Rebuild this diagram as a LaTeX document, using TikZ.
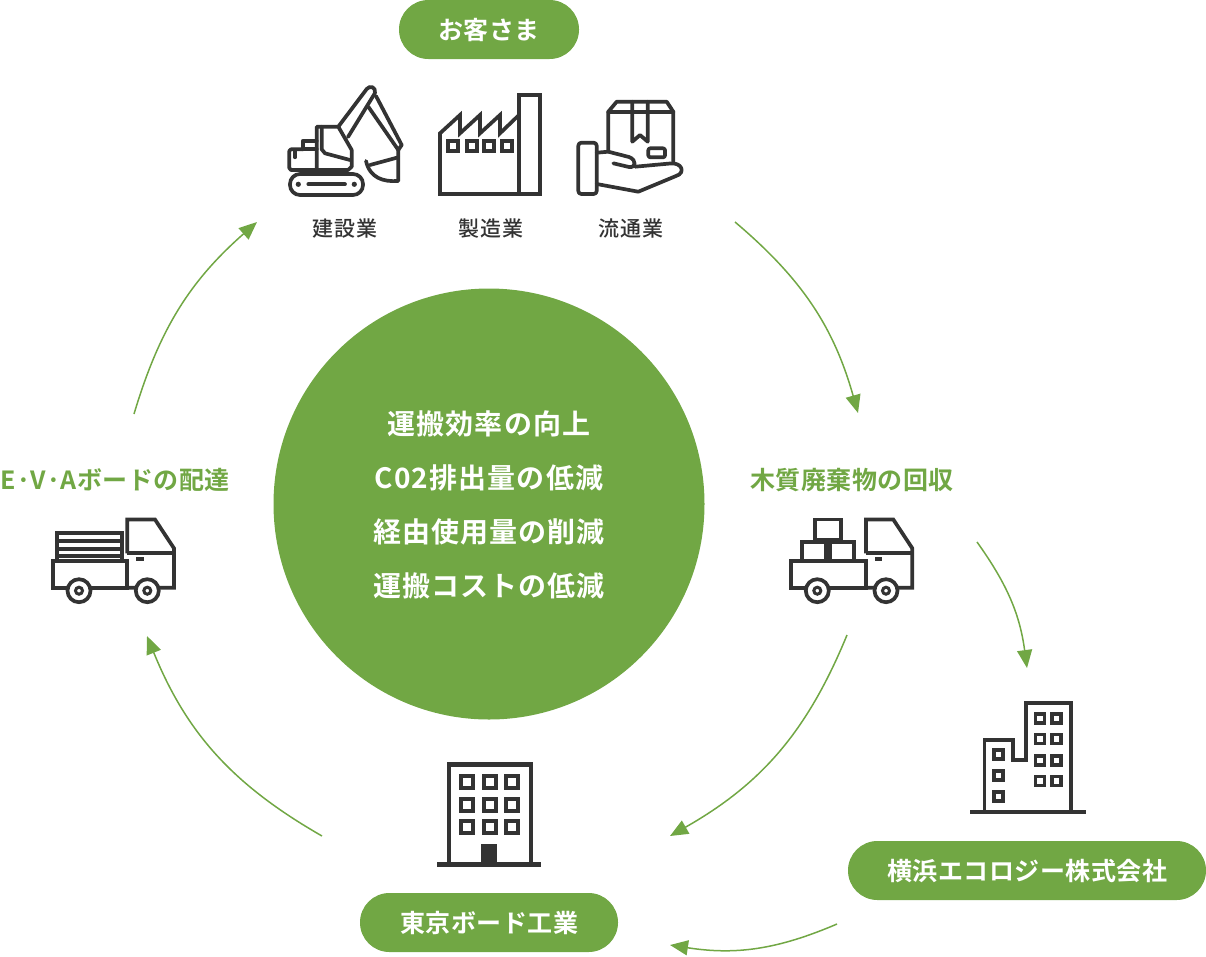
\documentclass[tikz,border=0pt]{standalone}
\usepackage{fontspec}
\usetikzlibrary{arrows.meta}
\newfontfamily\jpb[LetterSpace=4]{Noto Sans CJK JP Bold}
\newfontfamily\jpl[LetterSpace=2]{Noto Sans CJK JP Bold}
\newfontfamily\jpr[LetterSpace=3]{Noto Sans CJK JP Medium}
\definecolor{gr}{HTML}{71A744}
\definecolor{ink}{HTML}{333333}
\tikzset{
  center txt/.style={font=\jpb\fontsize{28}{30}\selectfont,text=white,inner sep=0pt,text height=24.6pt,text depth=3.4pt},
  green label/.style={font=\jpl\fontsize{25}{30}\selectfont,text=gr,inner sep=0pt,text height=22pt,text depth=3pt},
  pill/.style={font=\jpl\fontsize{25}{30}\selectfont,text=white,fill=gr,inner sep=0pt,minimum height=59pt,rounded corners=29.4pt,text height=22pt,text depth=3pt},
  sector/.style={font=\jpr\fontsize{21}{26}\selectfont,text=ink,inner sep=0pt,text height=18.5pt,text depth=2.5pt},
  flow/.style={draw=gr,line width=1.5pt,-{Triangle[length=18pt,width=15pt]}},
  icon/.style={draw=ink,line width=3.7pt,line join=miter,fill=none},
  ricon/.style={icon,line join=round,line cap=round},
  wheel/.style={draw=ink,line width=3.7pt,fill=white},
}
\begin{document}
\begin{tikzpicture}[x=1pt,y=-1pt]
\useasboundingbox (0,0) rectangle (1206,956);
% centre
\node[circle,fill=gr,minimum size=431pt,inner sep=0pt] (hub) at (489,504) {};
\node[center txt] (c1) at (489,424) {運搬効率の向上};
\node[center txt] (c2) at (489,478) {C02排出量の低減};
\node[center txt] (c3) at (489,532) {経由使用量の削減};
\node[center txt] (c4) at (489,586) {運搬コストの低減};
% labels
\node[pill,minimum width=180pt] (cust) at (489,29.5) {お客さま};
\node[pill,minimum width=258pt] (tb) at (489,922.5) {東京ボード工業};
\node[pill,minimum width=358pt] (ye) at (1027,870.5) {横浜エコロジー株式会社};
\node[green label] (wood) at (852,480) {木質廃棄物の回収};
\node[green label] (eva) at (115,480) {E·V·Aボードの配達};
\node[sector] (s1) at (345,228) {建設業};
\node[sector] (s2) at (491,228) {製造業};
\node[sector] (s3) at (631,228) {流通業};
% arrows
\coordinate (a1s) at (735,222); \coordinate (a1e) at (858,413);
\coordinate (a2s) at (847,635); \coordinate (a2e) at (670,836);
\coordinate (a3s) at (977,542); \coordinate (a3e) at (1027,668);
\coordinate (a4s) at (322,836); \coordinate (a4e) at (147,636);
\coordinate (a5s) at (134,414); \coordinate (a5e) at (257,222);
\coordinate (a6s) at (837,924); \coordinate (a6e) at (670,945);
\draw[flow] (a1s) to[bend left=17] (a1e);
\draw[flow] (a2s) to[bend left=19] (a2e);
\draw[flow] (a3s) to[bend left=14] (a3e);
\draw[flow] (a4s) to[bend left=19] (a4e);
\draw[flow] (a5s) to[bend left=16] (a5e);
\draw[flow] (a6s) to[bend left=16] (a6e);
% excavator
\begin{scope}[ricon]
\draw[rounded corners=10pt] (290,174) rectangle (363,195);
\fill[ink] (298.3,184.3) circle (2.6) (354.3,184.3) circle (2.6);
\draw (308.3,184.3) -- (345,184.3);
\draw (318.3,170) -- (318.3,174) (336,170) -- (336,174);
\draw (302.7,149.3) -- (291,149.3) -- (289.3,151) -- (289.3,168) -- (291,170) -- (348,170) -- (351.7,166.7) -- (351.7,150) -- (338.3,126.7) -- (316.7,126.7) -- (316.7,170);
\draw (302.7,149.3) -- (302.7,140.7) -- (316.7,140.7) (302.7,149.3) -- (316.7,149.3);
\draw (295,150) -- (295,157.3);
\draw (321.7,126.7) -- (321.7,149.3) -- (325,153.3) -- (350,160);
\draw (338.3,126.7) -- (366.7,89) .. controls (370,85) and (376,87) .. (375,93) -- (348,137);
\draw (376,96) -- (401.7,145) -- (398.3,150) -- (368.3,106.7);
\draw (398.3,150) -- (398.3,181) .. controls (383,182) and (370,178) .. (366,161);
\draw (370,165) -- (398.3,157.3);
\end{scope}
% factory
\begin{scope}[icon]
\draw (519,95) rectangle (540,194);
\draw (519,115) -- (500,133.3) -- (500,115) -- (480,133.3) -- (480,115) -- (460,133.3) -- (460,115) -- (440,133.3) -- (440,194) -- (519,194);
\foreach \x in {448.3,466.7,484.3,502.3} \draw (\x,140.7) rectangle ++(10,10.5);
\end{scope}
% hand with box
\begin{scope}[ricon]
\draw (608.3,151.7) -- (608.3,111.7) -- (616.7,101.7) -- (666.7,101.7) -- (673.3,111.7) -- (673.3,161.7);
\draw (608.3,112.3) -- (673.3,112.3);
\draw (632.3,101.7) -- (632.3,141.7) -- (640,135) -- (647.7,141.7) -- (647.7,101.7);
\draw[rounded corners=2pt] (648.3,148.3) rectangle (665,157.3);
\draw[rounded corners=3pt] (578.3,142.7) rectangle (596.7,194);
\draw (596.7,152.7) -- (608.3,151.7) -- (629,157) .. controls (637,160) and (636,168) .. (629,167) -- (613.3,163.3);
\draw (635,166.7) -- (670,163.5) .. controls (682,162) and (686,173) .. (676,176) -- (638.3,191.7) -- (596.7,184);
\end{scope}
% left truck
\begin{scope}[icon]
\draw (52.7,561) rectangle (127.3,587.7);
\draw (127.3,553.3) -- (127.3,519.5) -- (155,519.5) -- (174,548.3) -- (174,587.7) -- (127.3,587.7);
\draw (127.3,553.3) -- (174,553.3);
\draw (136,559.3) -- (144,559.3);
\draw (56.7,560) -- (56.7,533.3) -- (121.7,533.3) -- (121.7,560);
\draw (56.7,541) -- (121.7,541) (56.7,549) -- (121.7,549) (56.7,556) -- (121.7,556);
\foreach \x in {79,147.3} {\draw[wheel] (\x,590.7) circle (11.5); \draw[wheel,line width=3pt] (\x,590.7) circle (3.5);}
\end{scope}
% right truck
\begin{scope}[icon]
\draw (790.7,561) rectangle (866,587.7);
\draw (866,553.3) -- (866,519.5) -- (893.3,519.5) -- (912.3,548.3) -- (912.3,587.7) -- (866,587.7);
\draw (866,553.3) -- (912.3,553.3);
\draw (875,559.3) -- (882.3,559.3);
\draw (801.7,541.7) rectangle (826,561);
\draw (830,541.7) rectangle (854,561);
\draw (815,519.5) rectangle (840.7,540);
\foreach \x in {817.3,886} {\draw[wheel] (\x,590.7) circle (11.5); \draw[wheel,line width=3pt] (\x,590.7) circle (3.5);}
\end{scope}
% Yokohama building
\begin{scope}[icon]
\draw (970,812.3) -- (1086,812.3);
\draw (984.5,812.3) -- (984.5,740) -- (1013.3,740) -- (1013.3,760) -- (1025.7,760) -- (1025.7,703.3) -- (1071,703.3) -- (1071,812.3);
\foreach \x in {1040,1056.7} \foreach \y in {718.3,739,760.7,781} \draw (\x-4.5,\y-4.5) rectangle (\x+4.5,\y+4.5);
\foreach \y in {754.3,775.7,796.7} \draw (998.7-4.5,\y-4.5) rectangle (998.7+4.5,\y+4.5);
\end{scope}
% Tokyo building
\begin{scope}[icon,line width=4.5pt]
\draw[line width=5pt] (437.3,864.7) -- (540.7,864.7);
\draw (449,864.7) -- (449,764.3) -- (531,764.3) -- (531,864.7);
\foreach \x in {467.3,490,512.3} \foreach \y in {782.3,805,827.3} \draw[line width=4pt] (\x-6,\y-6) rectangle (\x+6,\y+6);
\fill[ink] (480.7,844) rectangle (497.3,864.7);
\end{scope}
\end{tikzpicture}
\end{document}
